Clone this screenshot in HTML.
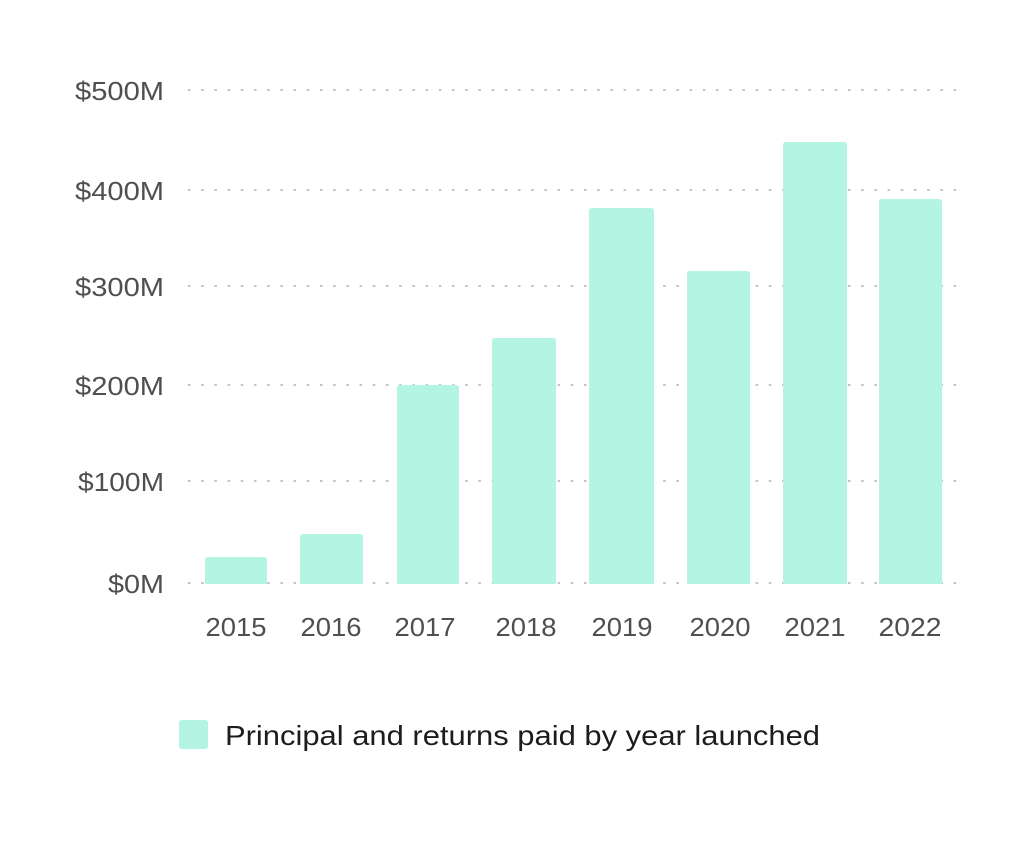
<!DOCTYPE html>
<html>
<head>
<meta charset="utf-8">
<style>
  html, body { margin: 0; padding: 0; background: #ffffff; }
  svg { display: block; }
  text { font-family: "Liberation Sans", "DejaVu Sans", sans-serif; }
</style>
</head>
<body>
<svg width="1024" height="842" viewBox="0 0 1024 842" xmlns="http://www.w3.org/2000/svg">
  <rect width="1024" height="842" fill="#ffffff"/>

  <!-- gridlines -->
  <g stroke="#c4c4c4" stroke-width="2" stroke-dasharray="2.5 10.7" fill="none">
    <line x1="188" y1="90" x2="960" y2="90"/>
    <line x1="188" y1="190" x2="960" y2="190"/>
    <line x1="188" y1="286" x2="960" y2="286"/>
    <line x1="188" y1="385" x2="960" y2="385"/>
    <line x1="188" y1="481" x2="960" y2="481"/>
    <line x1="188" y1="583" x2="960" y2="583"/>
  </g>

  <!-- y labels -->
  <g fill="#4f4f4f" font-size="26" text-anchor="end">
    <text x="164" y="100" textLength="89" lengthAdjust="spacingAndGlyphs">$500M</text>
    <text x="164" y="200" textLength="89" lengthAdjust="spacingAndGlyphs">$400M</text>
    <text x="164" y="296" textLength="89" lengthAdjust="spacingAndGlyphs">$300M</text>
    <text x="164" y="395" textLength="89" lengthAdjust="spacingAndGlyphs">$200M</text>
    <text x="164" y="491" textLength="86" lengthAdjust="spacingAndGlyphs">$100M</text>
    <text x="164" y="593" textLength="56" lengthAdjust="spacingAndGlyphs">$0M</text>
  </g>

  <!-- bars -->
  <g fill="#b4f4e3">
    <path d="M205,584 V560 Q205,557 208,557 H264 Q267,557 267,560 V584 Z"/>
    <path d="M300,584 V537 Q300,534 303,534 H360 Q363,534 363,537 V584 Z"/>
    <path d="M397,584 V388 Q397,385 400,385 H456 Q459,385 459,388 V584 Z"/>
    <path d="M492,584 V341 Q492,338 495,338 H553 Q556,338 556,341 V584 Z"/>
    <path d="M589,584 V211 Q589,208 592,208 H651 Q654,208 654,211 V584 Z"/>
    <path d="M687,584 V274 Q687,271 690,271 H747 Q750,271 750,274 V584 Z"/>
    <path d="M783,584 V145 Q783,142 786,142 H844 Q847,142 847,145 V584 Z"/>
    <path d="M879,584 V202 Q879,199 882,199 H939 Q942,199 942,202 V584 Z"/>
  </g>

  <!-- x labels -->
  <g fill="#4f4f4f" font-size="26" text-anchor="middle">
    <text x="236" y="636" textLength="61" lengthAdjust="spacingAndGlyphs">2015</text>
    <text x="331" y="636" textLength="61" lengthAdjust="spacingAndGlyphs">2016</text>
    <text x="425" y="636" textLength="61" lengthAdjust="spacingAndGlyphs">2017</text>
    <text x="526" y="636" textLength="61" lengthAdjust="spacingAndGlyphs">2018</text>
    <text x="622" y="636" textLength="61" lengthAdjust="spacingAndGlyphs">2019</text>
    <text x="720" y="636" textLength="61" lengthAdjust="spacingAndGlyphs">2020</text>
    <text x="815" y="636" textLength="61" lengthAdjust="spacingAndGlyphs">2021</text>
    <text x="910" y="636" textLength="63" lengthAdjust="spacingAndGlyphs">2022</text>
  </g>

  <!-- legend -->
  <rect x="179" y="720" width="29" height="29" rx="3" ry="3" fill="#b4f4e3"/>
  <text x="225" y="745" fill="#1c1c1c" font-size="28" textLength="595" lengthAdjust="spacingAndGlyphs">Principal and returns paid by year launched</text>
</svg>
</body>
</html>
